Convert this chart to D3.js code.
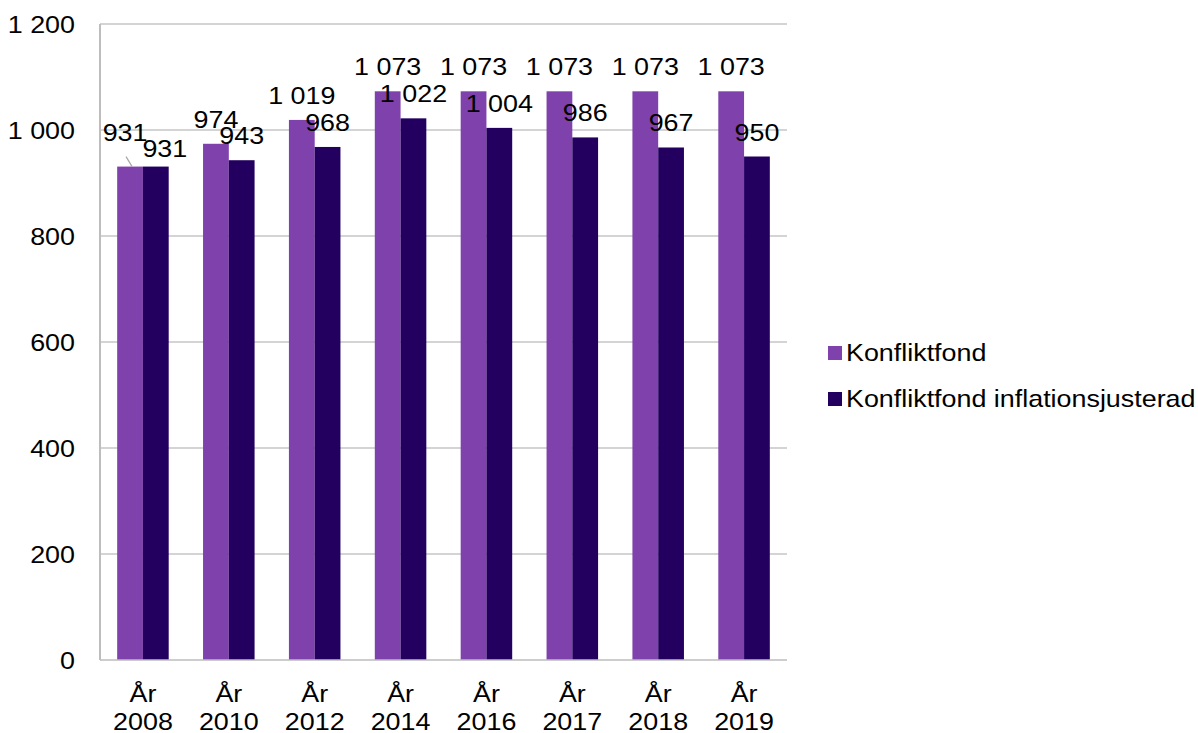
<!DOCTYPE html>
<html><head><meta charset="utf-8">
<script src="https://cdn.jsdelivr.net/npm/d3@7"></script>
<style>body{margin:0;background:#fff}svg{display:block}text{font-family:"Liberation Sans",Arial,sans-serif;fill:#000}</style>
</head><body>
<svg id="c" width="1198" height="733"></svg>
<script>
const categories = ["2008","2010","2012","2014","2016","2017","2018","2019"];
const konfliktfond = [931,974,1019,1073,1073,1073,1073,1073];
const inflationsjusterad = [931,943,968,1022,1004,986,967,950];
const seriesNames = ["Konfliktfond","Konfliktfond inflationsjusterad"];
const yTicks = [0,200,400,600,800,1000,1200];
const categoryPrefix = "År";

// layout / style (kept out of data)
const colors = ["#7f41ab","#230060"];
const FS = 24, SX = 1.12;
const plot = {l:100, r:787, t:24, b:660};
// manual label nudges for the first category (Excel-style moved labels)
const labelNudge = {0: [[-5,-10],[9,6]]};

const fmt = v => d3.format(",")(v).replace(/,/g," ");
const svg = d3.select("#c");

const x = d3.scaleBand().domain(categories).range([plot.l, plot.r]).paddingInner(0.4).paddingOuter(0.2);
const xs = d3.scaleBand().domain([0,1]).range([0, x.bandwidth()]);
const y = d3.scaleLinear().domain([0,1200]).range([plot.b, plot.t]);

function txt(g, str, px, py, anchor){
  return g.append("text").attr("transform",`translate(${px},${py}) scale(${SX},1)`)
    .attr("text-anchor",anchor).style("font-size",FS+"px").text(str);
}

// gridlines
svg.append("g").selectAll("line").data(yTicks.filter(t=>t>0)).join("line")
  .attr("x1",plot.l).attr("x2",plot.r).attr("y1",d=>y(d)).attr("y2",d=>y(d))
  .attr("stroke","#c6c6c6").attr("stroke-width",1.5);

// bars
const series = [konfliktfond, inflationsjusterad];
series.forEach((vals,si)=>{
  svg.append("g").selectAll("rect").data(vals).join("rect")
    .attr("x",(d,i)=>x(categories[i])+xs(si)).attr("width",xs.bandwidth())
    .attr("y",d=>y(d)).attr("height",d=>y(0)-y(d)).attr("fill",colors[si]);
});

// axes lines
svg.append("line").attr("x1",plot.l).attr("x2",plot.l).attr("y1",plot.t).attr("y2",plot.b).attr("stroke","#bdbdbd").attr("stroke-width",2);
svg.append("line").attr("x1",plot.l).attr("x2",plot.r).attr("y1",plot.b).attr("y2",plot.b).attr("stroke","#bdbdbd").attr("stroke-width",1.5);

// y tick labels
const yg = svg.append("g");
yTicks.forEach(t=> txt(yg, fmt(t), 75, y(t)+8.5, "end"));

// x labels
const xg = svg.append("g");
categories.forEach(c=>{
  const cx = x(c)+x.bandwidth()/2;
  txt(xg, categoryPrefix, cx, 702, "middle");
  txt(xg, c, cx, 730, "middle");
});

// data labels
const lg = svg.append("g");
series.forEach((vals,si)=>{
  vals.forEach((v,i)=>{
    let cx = x(categories[i])+xs(si)+xs.bandwidth()/2, by = y(v)-16;
    const n = labelNudge[i];
    if(n){ cx += n[si][0]; by += n[si][1]; }
    txt(lg, fmt(v), cx, by, "middle");
  });
});
// leader line for moved label
{
  const bx = x(categories[0])+xs(0)+xs.bandwidth()/2;
  svg.append("line").attr("x1",bx-4).attr("y1",y(konfliktfond[0])-10).attr("x2",bx+2).attr("y2",y(konfliktfond[0]))
    .attr("stroke","#a6a6a6").attr("stroke-width",1.2);
}

// legend
const leg = svg.append("g");
seriesNames.forEach((s,i)=>{
  const ly = 346 + i*46;
  leg.append("rect").attr("x",828).attr("y",ly).attr("width",14).attr("height",14).attr("fill",colors[i]);
  txt(leg, s, 846, ly+15, "start");
});
</script>
</body></html>
